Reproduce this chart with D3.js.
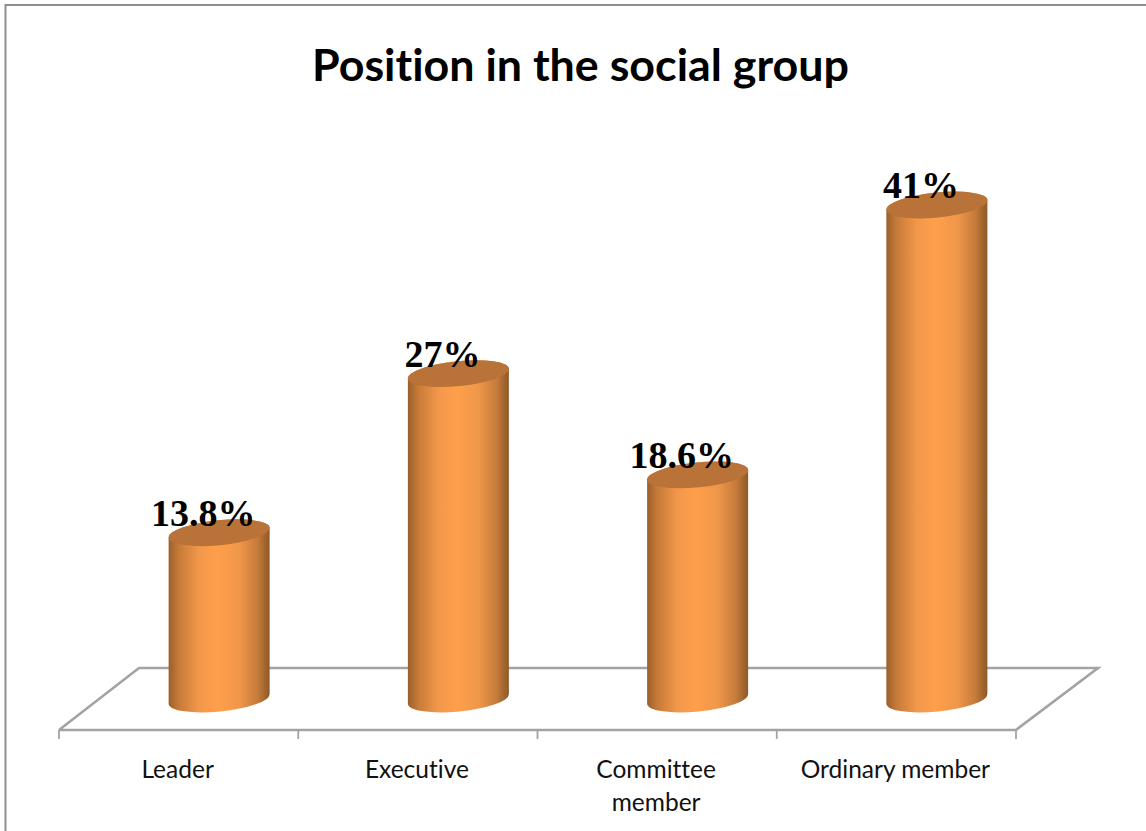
<!DOCTYPE html>
<html>
<head>
<meta charset="utf-8">
<script src="https://cdn.jsdelivr.net/npm/d3@7"></script>
<style>
  html, body { margin: 0; padding: 0; background: #fff; overflow: hidden; }
  svg { display: block; }
  text { font-variant-ligatures: none; }
</style>
</head>
<body>
<svg id="chart" width="1146" height="831"></svg>
<script>
const chartTitle = "Position in the social group";
const categories = ["Leader", "Executive", "Committee member", "Ordinary member"];
const shares = [13.8, 27, 18.6, 41];
const shareLabels = ["13.8%", "27%", "18.6%", "41%"];
const categoryLines = [["Leader"], ["Executive"], ["Committee", "member"], ["Ordinary member"]];

const svg = d3.select("#chart");

// Floor of the pseudo-3D plot: front edge at floorFront, rear edge shifted by depth.
const floorFront = 730, floorBack = 668, depthX = 81;
const barWidth = 101, tiltRise = 10, capRy = 12.5;
const capHalfLength = Math.hypot(barWidth, tiltRise) / 2;
const capAngle = -Math.atan2(tiltRise, barWidth) * 180 / Math.PI;

const x = d3.scaleBand().domain(categories).range([59, 1016]);
const y = d3.scaleLinear().domain([0, 41]).range([699, 205]);
const barCentre = c => x(c) + x.bandwidth() / 2 + depthX / 2;

// Horizontal shading that makes each bar read as a cylinder.
const shade = svg.append("defs").append("linearGradient")
  .attr("id", "cylinderShade").attr("x1", 0).attr("x2", 1).attr("y1", 0).attr("y2", 0);
[[0, "#9a5f2b"], [0.1, "#c67a38"], [0.3, "#f2974a"], [0.48, "#ff9f4b"],
 [0.7, "#f0974a"], [0.88, "#c57b3a"], [1, "#8e5829"]]
  .forEach(([o, c]) => shade.append("stop").attr("offset", o).attr("stop-color", c));

// Outer chart frame, open on the right and bottom edges of the page.
svg.append("path")
  .attr("d", d3.line()([[5.5, 831], [5.5, 5], [1146, 5]]))
  .attr("fill", "none").attr("stroke", "#8e8e8e").attr("stroke-width", 2);

svg.append("text")
  .attr("x", 580.5).attr("y", 81)
  .attr("text-anchor", "middle")
  .attr("font-family", "Lato, 'Open Sans', sans-serif")
  .attr("font-weight", 700).attr("font-size", 44.8)
  .attr("fill", "#000")
  .text(chartTitle);

// Floor outline.
const [left, right] = x.range();
svg.append("path")
  .attr("d", d3.line()([
    [left, floorFront], [left + depthX - 1, floorBack], [right + depthX + 1, floorBack],
    [right, floorFront], [left, floorFront]
  ]))
  .attr("fill", "none").attr("stroke", "#a3a3a3").attr("stroke-width", 2.6);

// Tick marks sit on the band boundaries, not the band centres.
const tickEdges = categories.map(c => x(c)).concat(right);
svg.append("g").selectAll("line").data(tickEdges).join("line")
  .attr("x1", d => d).attr("x2", d => d)
  .attr("y1", floorFront).attr("y2", floorFront + 9)
  .attr("stroke", "#a3a3a3").attr("stroke-width", 1.8);

// Category labels, centred under each band.
const labels = svg.append("g")
  .attr("font-family", "Lato, 'Open Sans', sans-serif")
  .attr("font-size", 24.5).attr("fill", "#111")
  .attr("text-anchor", "middle");
labels.selectAll("text").data(categories).join("text")
  .attr("x", c => x(c) + x.bandwidth() / 2 - 1)
  .attr("y", 778)
  .selectAll("tspan")
  .data((c, i) => categoryLines[i])
  .join("tspan")
  .attr("x", function () { return this.parentNode.getAttribute("x"); })
  .attr("dy", (d, i) => i ? 33 : 0)
  .text(d => d);

// Cylinders: side body first, then the tilted cap on top.
const bars = svg.append("g").selectAll("g")
  .data(categories.map((c, i) => ({ c, v: shares[i], label: shareLabels[i] })))
  .join("g");

bars.append("path")
  .attr("fill", "url(#cylinderShade)")
  .attr("d", d => {
    const cx = barCentre(d.c), l = cx - barWidth / 2, r = cx + barWidth / 2;
    const yt = y(d.v), yb = y(0), t = tiltRise / 2;
    return `M${l},${yt + t} L${l},${yb + t} ` +
      `A${capHalfLength},${capRy} ${capAngle} 0 0 ${r},${yb - t} ` +
      `L${r},${yt - t} ` +
      `A${capHalfLength},${capRy} ${capAngle} 0 0 ${l},${yt + t} Z`;
  });

bars.append("ellipse")
  .attr("rx", capHalfLength).attr("ry", capRy)
  .attr("transform", d => `translate(${barCentre(d.c)},${y(d.v)}) rotate(${capAngle})`)
  .attr("fill", "#b97237");

bars.append("text")
  .attr("x", d => barCentre(d.c) - 16)
  .attr("y", d => y(d.v) - 7)
  .attr("text-anchor", "middle")
  .attr("font-family", "'Liberation Serif', serif")
  .attr("font-weight", 700).attr("font-size", 38)
  .attr("fill", "#000")
  .text(d => d.label);
</script>
</body>
</html>
